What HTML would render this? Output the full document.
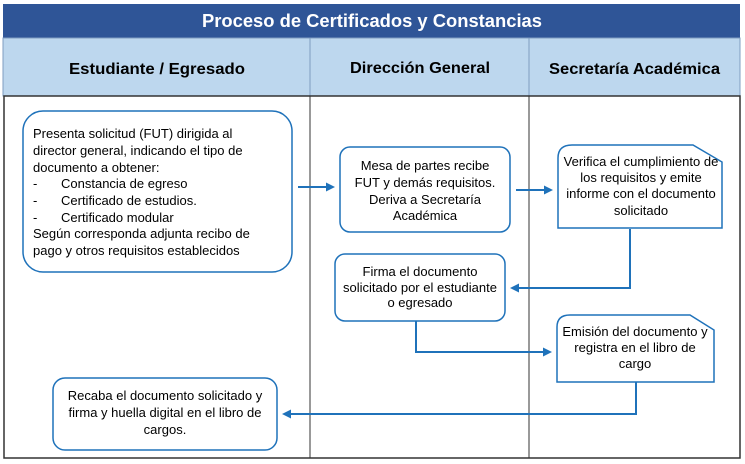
<!DOCTYPE html>
<html><head><meta charset="utf-8"><style>
html,body{margin:0;padding:0;background:#fff}
svg{display:block}
text{font-family:"Liberation Sans",Arial,sans-serif;fill:#000}
</style></head><body>
<svg width="745" height="464" viewBox="0 0 745 464" xmlns="http://www.w3.org/2000/svg">
<defs><marker id="a" markerWidth="9" markerHeight="9" refX="7" refY="4.5" orient="auto" markerUnits="userSpaceOnUse"><path d="M0,0 L9,4.5 L0,9 Z" fill="#1F72BA"/></marker></defs>
<rect x="3" y="4" width="737" height="34" fill="#2F5597"/>
<text x="202" y="27" font-size="18" font-weight="bold" textLength="340" lengthAdjust="spacingAndGlyphs" style="fill:#fff">Proceso de Certificados y Constancias</text>
<rect x="3" y="38" width="737" height="58" fill="#BDD7EE" stroke="#7F9CC0" stroke-width="1"/>
<line x1="310" y1="38" x2="310" y2="96" stroke="#7F9CC0"/>
<line x1="529" y1="38" x2="529" y2="96" stroke="#7F9CC0"/>
<text x="69" y="74" font-size="16" font-weight="bold" textLength="176" lengthAdjust="spacingAndGlyphs">Estudiante / Egresado</text>
<text x="350" y="73" font-size="16" font-weight="bold" textLength="140" lengthAdjust="spacingAndGlyphs">Dirección General</text>
<text x="549" y="74" font-size="16" font-weight="bold" textLength="171" lengthAdjust="spacingAndGlyphs">Secretaría Académica</text>
<rect x="4" y="96" width="736" height="362" fill="none" stroke="#333" stroke-width="1.5"/>
<line x1="310" y1="96" x2="310" y2="458" stroke="#333"/>
<line x1="529" y1="96" x2="529" y2="458" stroke="#333"/>
<g fill="#fff" stroke="#1F72BA" stroke-width="1.5">
<rect x="23" y="111" width="269" height="161" rx="20"/>
<rect x="340" y="147" width="170" height="85" rx="10"/>
<path d="M558,228 L558,158 Q558,145 572,145 L693,145 L722,162 L722,228 Z"/>
<rect x="335" y="254" width="170" height="67" rx="10"/>
<path d="M557,382 L557,327 Q557,315 570,315 L690,315 L714,330 L714,382 Z"/>
<rect x="53" y="378" width="224" height="72" rx="12"/>
</g>
<g fill="none" stroke="#1F72BA" stroke-width="2" marker-end="url(#a)">
<line x1="298" y1="187" x2="333" y2="187"/>
<line x1="516" y1="190" x2="551" y2="190"/>
<polyline points="630,229 630,288 512,288"/>
<polyline points="416,321 416,352 550,352"/>
<polyline points="636,382 636,414 284,414"/>
</g>
<g font-size="13">
<text x="33" y="138">Presenta solicitud (FUT) dirigida al</text>
<text x="33" y="155">director general, indicando el tipo de</text>
<text x="33" y="172">documento a obtener:</text>
<text x="33" y="188">-</text><text x="61" y="188">Constancia de egreso</text>
<text x="33" y="205">-</text><text x="61" y="205">Certificado de estudios.</text>
<text x="33" y="222">-</text><text x="61" y="222">Certificado modular</text>
<text x="33" y="238">Según corresponda adjunta recibo de</text>
<text x="33" y="255">pago y otros requisitos establecidos</text>
</g>
<g font-size="13" text-anchor="middle">
<text x="425" y="170">Mesa de partes recibe</text>
<text x="425" y="187">FUT y demás requisitos.</text>
<text x="425" y="204">Deriva a Secretaría</text>
<text x="425" y="220">Académica</text>
<text x="641" y="166">Verifica el cumplimiento de</text>
<text x="641" y="182">los requisitos y emite</text>
<text x="641" y="198">informe con el documento</text>
<text x="641" y="215">solicitado</text>
<text x="420" y="276">Firma el documento</text>
<text x="420" y="292">solicitado por el estudiante</text>
<text x="420" y="307">o egresado</text>
<text x="635" y="336">Emisión del documento y</text>
<text x="635" y="352">registra en el libro de</text>
<text x="635" y="368">cargo</text>
<text x="165" y="400">Recaba el documento solicitado y</text>
<text x="165" y="417">firma y huella digital en el libro de</text>
<text x="165" y="434">cargos.</text>
</g>
</svg>
</body></html>
